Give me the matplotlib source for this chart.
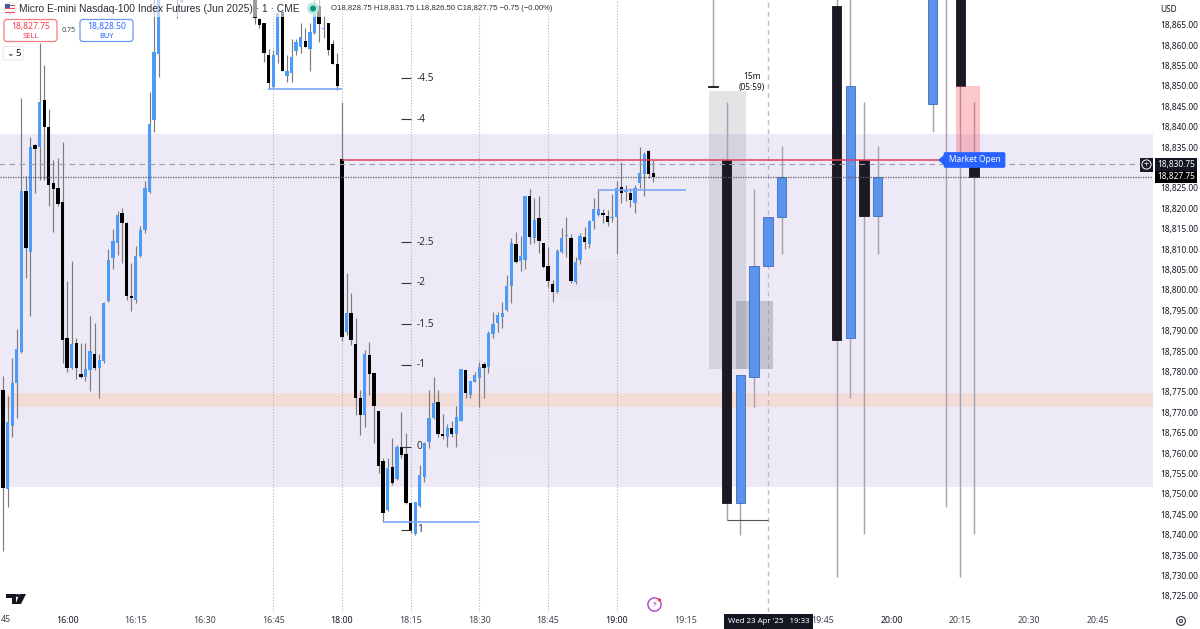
import matplotlib
matplotlib.use("Agg")
import matplotlib.pyplot as plt
from matplotlib.patches import Rectangle, FancyBboxPatch, Circle, Polygon
from matplotlib.transforms import Affine2D

plt.rcParams['font.family'] = ['Noto Sans', 'DejaVu Sans']

# ---------- 1-minute candles ----------
bar_index = list(range(0, 35)) + [38, 39] + list(range(55, 143))
opens = [18775.5,18751.2,18766.6,18777.2,18784.8,18824.2,18809.3,18835.5,18835.0,18846.5,18839.9,18826.2,18824.9,18821.5,18788.2,18780.8,18787.0,18779.4,18778.6,18780.4,
 18784.3,18780.8,18782.6,18797.3,18807.8,18811.5,18818.8,18816.4,18798.5,18797.5,18808.3,18814.7,18824.0,18841.6,18857.8,
 18873.0,18870.5,
 18871.7,18866.3,18865.4,18857.5,18849.7,18857.5,18868.1,18852.4,18853.1,18858.5,18859.5,18861.0,18859.0,18862.9,18869.5,18863.9,18865.4,18860.2,18855.3,
 18832.0,18789.7,18794.3,18786.7,18773.5,18769.3,18784.0,18779.6,18770.3,18758.0,18746.0,18756.6,18753.6,18761.5,18759.8,18747.8,18740.2,18747.0,18754.1,18762.7,18768.6,
 18772.5,18764.7,18763.9,18766.1,18764.7,18767.9,18780.4,18774.2,18777.4,18778.4,18781.8,18781.1,18789.2,18791.9,18793.3,18795.0,18800.9,18811.2,18807.1,18807.3,18823.0,
 18812.7,18817.6,18811.5,18805.8,18801.4,18799.5,18809.3,18813.2,18812.7,18801.9,18807.3,18812.9,18811.2,18816.9,18818.3,18818.8,18818.1,18817.6,18817.8,18825.2,18824.0,
 18823.7,18821.3,18826.2,18828.4,18834.0,18828.6]
highs = [18778.9,18774.0,18783.3,18790.4,18847.0,18827.9,18837.4,18835.7,18860.5,18855.1,18844.3,18831.8,18832.3,18836.2,18802.2,18807.1,18788.2,18787.0,18787.0,18793.6,
 18791.9,18784.3,18797.0,18810.0,18814.9,18819.3,18820.0,18816.6,18806.6,18810.7,18815.6,18826.7,18848.5,18872.2,18872.2,
 18874.0,18873.0,
 18872.2,18866.6,18865.4,18859.0,18858.8,18868.1,18868.1,18857.5,18861.4,18861.4,18865.4,18864.1,18865.4,18872.2,18872.2,18867.1,18865.4,18861.2,18858.0,
 18846.0,18804.1,18799.2,18793.1,18775.5,18785.3,18787.2,18779.6,18770.3,18758.8,18758.8,18763.7,18762.0,18770.1,18764.9,18747.8,18748.0,18757.1,18762.7,18775.5,18778.6,
 18775.5,18769.6,18767.1,18767.9,18771.5,18780.6,18780.4,18777.7,18779.9,18782.3,18782.3,18789.9,18794.6,18794.6,18797.0,18803.6,18812.7,18814.2,18813.2,18823.0,18824.7,
 18822.5,18823.0,18811.5,18810.5,18802.4,18810.0,18815.1,18817.8,18813.7,18808.0,18813.9,18815.4,18817.1,18822.5,18824.5,18819.8,18819.6,18823.5,18826.7,18831.3,18825.7,
 18824.9,18825.7,18835.0,18833.8,18834.3,18831.8]
lows = [18736.0,18746.8,18763.9,18768.6,18784.5,18802.9,18793.6,18823.7,18826.9,18826.9,18820.5,18814.2,18820.5,18782.1,18779.9,18780.6,18778.1,18778.4,18777.7,18775.2,
 18780.4,18773.5,18782.1,18797.0,18805.1,18808.5,18806.6,18797.5,18794.8,18796.8,18808.0,18813.9,18823.7,18838.7,18852.1,
 18866.6,18870.5,
 18865.1,18864.1,18855.8,18849.4,18849.4,18855.6,18853.6,18850.9,18850.9,18857.5,18858.0,18859.5,18853.6,18862.7,18860.7,18861.7,18857.5,18855.3,18848.9,
 18787.5,18788.9,18786.5,18769.3,18764.4,18766.4,18774.2,18762.5,18755.1,18743.1,18745.8,18752.2,18753.4,18758.8,18747.5,18740.4,18739.9,18746.8,18752.9,18761.2,18768.3,
 18763.9,18763.4,18761.5,18763.9,18761.5,18767.9,18773.5,18773.5,18777.4,18771.3,18773.5,18779.6,18788.2,18789.7,18790.6,18794.8,18796.8,18806.6,18804.6,18805.1,18811.2,
 18811.5,18809.0,18805.3,18800.7,18797.0,18799.2,18809.0,18808.0,18801.7,18801.4,18806.3,18810.0,18810.2,18814.9,18818.1,18816.4,18815.6,18816.6,18808.8,18821.3,18821.8,
 18820.3,18818.8,18824.9,18823.0,18827.4,18826.4]
closes = [18751.4,18767.6,18777.2,18785.5,18824.2,18810.2,18835.0,18834.5,18846.0,18839.9,18825.7,18824.7,18821.0,18787.7,18780.8,18786.7,18780.8,18778.6,18780.6,18785.0,
 18780.8,18782.8,18796.8,18807.3,18812.0,18818.3,18816.4,18798.5,18798.0,18808.3,18814.7,18824.9,18840.6,18858.3,18871.5,
 18872.0,18872.5,
 18866.6,18864.9,18858.0,18850.7,18857.5,18867.8,18853.6,18853.6,18857.0,18860.7,18861.9,18859.5,18863.2,18867.3,18865.1,18864.1,18858.8,18855.3,18849.9,
 18788.4,18794.3,18787.7,18773.5,18769.3,18784.3,18779.4,18771.5,18756.8,18745.3,18756.3,18752.7,18761.5,18759.5,18747.8,18741.2,18748.0,18754.6,18762.5,18768.6,18772.3,
 18764.7,18764.2,18766.1,18764.7,18768.8,18780.6,18774.7,18777.7,18779.1,18781.1,18780.8,18789.4,18791.6,18793.8,18794.3,18800.9,18811.5,18806.8,18808.3,18823.0,18812.9,
 18817.1,18812.0,18805.6,18802.2,18799.5,18809.5,18812.7,18813.4,18802.2,18806.8,18813.2,18811.7,18816.9,18819.8,18819.8,18818.3,18816.6,18817.8,18824.9,18823.7,18824.2,
 18822.0,18824.9,18828.6,18833.3,18828.4,18827.6]

# ---------- 5-minute candles drawn on the right ----------
htf_index = [155,158,161,164,167,170,182,185,188,191,203,206,209,212]
htf_open = [18850.0,18831.75,18747.75,18778.6,18805.8,18817.8,18869.5,18788.2,18831.75,18818.1,18845.5,18872.5,18872.5,18831.75]
htf_high = [18873,18846,18779.1,18824.7,18817.8,18835.2,18873,18873,18846,18835.2,18873,18874,18873,18846]
htf_low = [18849.9,18743.5,18740,18771.3,18805.8,18808.8,18729.6,18773.5,18740.2,18808.8,18838.7,18746.8,18729.6,18740.2]
htf_close = [18849.75,18747.75,18779.1,18805.8,18817.8,18827.6,18787.7,18849.9,18818.1,18827.6,18873,18874,18849.9,18827.6]

# ---------- axes ticks ----------
price_ticks = [18725,18730,18735,18740,18745,18750,18755,18760,18765,18770,18775,18780,18785,18790,18795,18800,
               18805,18810,18815,18820,18825,18835,18840,18845,18850,18855,18860,18865]
time_ticks = [14,29,44,59,74,89,104,119,134,149,179,194,209,224,239]
time_labels = ['16:00','16:15','16:30','16:45','18:00','18:15','18:30','18:45','19:00','19:15','19:45','20:00','20:15','20:30','20:45']
bold_times = ['16:00','18:00','19:00','20:00']
session_lines = [59,74,89,104,119,134]

# ---------- drawing levels ----------
fib_labels = ['-4.5','-4','-2.5','-2','-1.5','-1','0','1']
fib_prices = [18851.9,18841.8,18811.7,18801.7,18791.6,18781.6,18761.5,18741.2]
zone_low, zone_high = 18751.67, 18838.2
peach_low, peach_high = 18771.3, 18774.7
last_price, open_price, line_price = 18827.75, 18830.75, 18831.75

W, H = 1200, 629
fig = plt.figure(figsize=(12, 6.29), dpi=100, facecolor='white')
ax = fig.add_axes([0, 17/H, 1153/W, 612/H])
ax.set_xlim(-0.655, 251.09)
ax.set_ylim(18721.03, 18871.03)
T = Affine2D().scale(1, -1).translate(0, H)

# background zones
ax.axhspan(zone_low, zone_high, color='#ede9f6', lw=0, zorder=1)
ax.axhspan(peach_low, peach_high, color='#f2dcd8', lw=0, zorder=1.2)
ax.add_patch(Rectangle((103.8, 18761), 15, 18, color='#787b86', alpha=0.012, lw=0, zorder=1.1))
ax.add_patch(Rectangle((119.3, 18798), 15, 9, color='#787b86', alpha=0.02, lw=0, zorder=1.1))

for k in session_lines:
    ax.axvline(k, color='#b4b4bc', lw=0.8, ls=(0, (1, 1.6)), zorder=1.5)
ax.axvline(167, color='#bcbcc6', lw=1.0, ls=(0, (3.5, 3)), zorder=1.5)

# one-minute candles
wick_c = '#7c7c7c'
ax.vlines(bar_index, lows, highs, color=wick_c, lw=0.85, zorder=3)
for k, o, c in zip(bar_index, opens, closes):
    ax.bar(k, abs(c-o), bottom=min(o, c), width=0.72, color='#4d9bf8' if c >= o else '#000000', lw=0, zorder=3.2)

# higher-timeframe candles
ax.vlines(htf_index, htf_low, htf_high, color='#a5a3ad', lw=1.05, zorder=2.6)
for k, o, c in zip(htf_index, htf_open, htf_close):
    up = c > o
    ax.bar(k, abs(c-o), bottom=min(o, c), width=2.05, color='#5b93ee' if up else '#1b1a24',
           edgecolor='#3e6db8' if up else '#16151d', lw=0.6, zorder=2.8)

# boxes
ax.add_patch(Rectangle((154.15, 18780.6), 8.05, 68.1, color='#787b86', alpha=0.2, lw=0, zorder=2.4))
ax.add_patch(Rectangle((160, 18780.6), 8.1, 16.7, color='#787b86', alpha=0.35, lw=0, zorder=2.5))
ax.add_patch(Rectangle((208.1, line_price), 5.2, 18.1, color='#f7525f', alpha=0.32, lw=0, zorder=3.3))

# lines
ax.hlines(open_price, -1, 248.5, color='#9c9ca6', lw=0.8, ls=(0, (5, 4)), zorder=4)
ax.axhline(last_price, color='#5a5a64', lw=0.9, ls=(0, (1, 1)), zorder=4)
ax.hlines(line_price, 74, 204.6, color='#e2405f', lw=1.1, zorder=4.2)
ax.hlines(18849.2, 57.9, 74, color='#7da7f5', lw=1.2, zorder=4)
ax.hlines(18743.1, 83, 104, color='#7da7f5', lw=1.2, zorder=4)
ax.hlines(18824.4, 130, 149.1, color='#7da7f5', lw=1.2, zorder=4)
ax.hlines(18743.5, 158, 167, color='#55555f', lw=0.8, zorder=4)

# fib levels
for lab, p in zip(fib_labels, fib_prices):
    ax.hlines(p, 86.9, 89, color='#333333' , lw=0.8, zorder=4)
    ax.text(90.3, p, lab, fontsize=7.2, color='#2a2e39', va='center', ha='left', zorder=4.5)
ax.text(163.5, 18848.6, '15m\n(05:59)', fontsize=6.0, color='#131722', ha='center', va='bottom', linespacing=1.15, zorder=5)

# axes
ax.set_facecolor('white')
ax.yaxis.tick_right()
ax.set_yticks(price_ticks)
ax.set_yticklabels([f'{p:,.2f}' for p in price_ticks], fontsize=6.0, color='#131722')
ax.set_xticks(time_ticks)
ax.set_xticklabels(time_labels, fontsize=6.4, color='#434651')
for t in ax.get_xticklabels():
    if t.get_text() in bold_times:
        t.set_color('#131722')
        t.set_fontweight('semibold')
ax.tick_params(axis='y', length=0, pad=5)
ax.tick_params(axis='x', length=0, pad=3)
for s in ax.spines.values():
    s.set_visible(False)

def ftext(x, y, s, **kw):
    kw.setdefault('va', 'center')
    kw.setdefault('zorder', 12)
    fig.text(x, y, s, transform=T, **kw)

def fpatch(p, z=10):
    p.set_transform(T)
    p.set_zorder(z)
    fig.add_artist(p)

# legend strip
fpatch(Rectangle((0, 0), 590, 17, fc='white', alpha=0.62, lw=0), 9)
# flag
fpatch(Circle((10, 8.5), 6, fc='#f4f4f6', ec='#d9d9de', lw=0.4))
for yy in (4.5, 8, 11.5):
    fpatch(Rectangle((5, yy), 10, 1.4, fc='#e8505b', lw=0), 10.5)
fpatch(Rectangle((5, 3.5), 5, 4.2, fc='#3c5fa8', lw=0), 10.6)
ftext(19, 9, 'Micro E-mini Nasdaq-100 Index Futures (Jun 2025) · 1 · CME', fontsize=7.35, color='#2a2e39', family='Liberation Sans')
fpatch(Circle((313, 8.5), 6, fc='#bfe6e0', lw=0), 10)
fpatch(Circle((313, 8.5), 3, fc='#089981', lw=0), 10.5)
ftext(331, 9, 'O18,828.75 H18,831.75 L18,826.50 C18,827.75 −0.75 (−0.00%)', fontsize=5.6, color='#2a2e39', family='Liberation Sans')

# buy / sell
for x0, edge, txt, lab in [(4, '#f77c80', '18,827.75', 'SELL'), (80, '#6c97f5', '18,828.50', 'BUY')]:
    fpatch(FancyBboxPatch((x0, 19.5), 53, 22, boxstyle='round,pad=0,rounding_size=3', fc='white', ec=edge, lw=0.9))
    c = '#f23645' if lab == 'SELL' else '#2962ff'
    ftext(x0+26.5, 26, txt, fontsize=6.2, color=c, ha='center')
    ftext(x0+26.5, 36, lab, fontsize=5.4, color=c, ha='center')
ftext(69, 31, '0.75', fontsize=5.2, color='#434651', ha='center')
fpatch(FancyBboxPatch((3, 46.5), 20, 13.5, boxstyle='round,pad=0,rounding_size=2', fc='white', ec='#e6e6ea', lw=0.7))
ftext(9.5, 53, '⌄', fontsize=6.5, color='#131722', ha='center')
ftext(18, 53, '5', fontsize=7.0, color='#131722', ha='center')

# market open label
fpatch(Polygon([(938, 160), (944, 155), (944, 165)], closed=True, fc='#2962ff', lw=0), 10)
fpatch(FancyBboxPatch((944, 152.5), 61, 15, boxstyle='round,pad=0,rounding_size=1.5', fc='#2962ff', ec='#2962ff', lw=0.5))
ftext(974.5, 160, 'Market Open', fontsize=6.0, color='white', ha='center')

# right axis tags
ftext(1160, 9, 'USD', fontsize=6.0, color='#131722', ha='left')
fpatch(Rectangle((1155, 158), 42, 14, fc='#131722', lw=0), 10)
fpatch(Rectangle((1155, 171), 42, 12, fc='#000000', lw=0), 10.2)
ftext(1176.5, 164.5, '18,830.75', fontsize=6.0, color='white', ha='center')
ftext(1176.5, 177, '18,827.75', fontsize=6.0, color='white', ha='center')
fpatch(Rectangle((1140, 158), 13, 14, fc='#1a1d27', lw=0), 10)
fpatch(Circle((1146.5, 164.5), 4.6, fc='none', ec='white', lw=0.7), 10.5)
ftext(1146.5, 164.2, '+', fontsize=6.5, color='white', ha='center')

# bottom tag
ftext(1, 620, '45', fontsize=6.4, color='#434651', ha='left')
fpatch(Rectangle((724, 614), 89, 15, fc='#131722', lw=0), 10)
ftext(768.5, 621.5, "Wed 23 Apr '25   19:33", fontsize=5.7, color='white', ha='center')

# logos
fpatch(Polygon([(6, 594), (16, 594), (16, 604), (12, 604), (12, 598), (6, 598)], closed=True, fc='#131722', lw=0))
fpatch(Polygon([(19.5, 594), (26, 594), (21, 604), (15.5, 604)], closed=True, fc='#131722', lw=0))
fpatch(Circle((17.5, 595.5), 1.6, fc='#131722', lw=0))
fpatch(Circle((654.5, 604.5), 6.6, fc='white', ec='#b13fd0', lw=1.0))
ftext(654.5, 604.5, '⚡', fontsize=6.2, color='#b13fd0', ha='center', family='DejaVu Sans')
fpatch(Circle((659.5, 600), 1.6, fc='#f23645', lw=0), 10.5)
fpatch(Circle((1181, 621), 4.4, fc='none', ec='#434651', lw=0.9))
fpatch(Circle((1181, 621), 1.5, fc='none', ec='#434651', lw=0.8))

fig.savefig('out.png', dpi=100, facecolor='white')
